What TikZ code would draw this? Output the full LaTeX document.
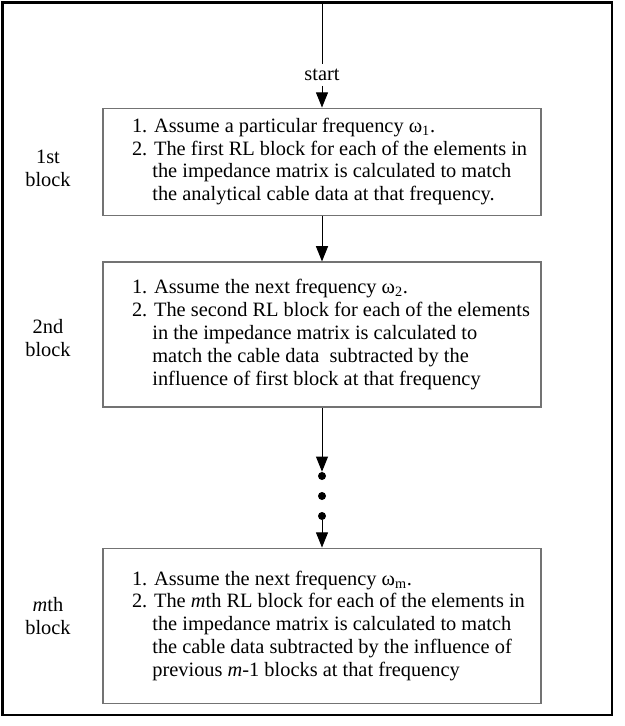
\documentclass[tikz,border=0pt]{standalone}
\usepackage{fontspec}
\setmainfont{Liberation Serif}
\usepackage{tikz}
\usetikzlibrary{arrows.meta}

\tikzset{
	blockbox/.style={rectangle,draw=black!55,line width=0.8pt,minimum width=10.95cm,inner sep=0pt},
	sidelabel/.style={align=center,inner sep=1pt},
	dot/.style={circle,fill=black,inner sep=0pt,minimum size=0.2cm},
	>={Triangle[length=0.38cm,width=0.3cm]}
}
\newcommand{\blocktext}[1]{\hspace*{0.6cm}\parbox{10.1cm}{\raggedright #1}}
\newcommand{\ind}{\hphantom{2.~}}

\begin{document}
\begin{tikzpicture}[font=\fontsize{14.5}{16.2}\selectfont]
			\useasboundingbox (0,0) rectangle (15.625,-18.15);
			\draw[line width=2pt] (0.06,-0.06) rectangle (15.3,-17.875);
			
			\coordinate (top) at (8.05,-0.06);
			\node (start) at (8.05,-1.875) {start};
			\node[blockbox,minimum height=2.675cm] (b1) at (8.05,-4.04) {\blocktext{%
				1. Assume a particular frequency ω\textsubscript{1}.\\
				2. The first RL block for each of the elements in\\
				\ind the impedance matrix is calculated to match\\
				\ind the analytical cable data at that frequency.}};
			\node[blockbox,minimum height=3.625cm] (b2) at (8.05,-8.3625) {\blocktext{%
				1. Assume the next frequency ω\textsubscript{2}.\\
				2. The second RL block for each of the elements\\
				\ind in the impedance matrix is calculated to\\
				\ind match the cable data\ \ subtracted by the\\
				\ind influence of first block at that frequency}};
			\node[dot] (d1) at (8.05,-11.9) {};
			\node[dot] (d2) at (8.05,-12.4) {};
			\node[dot] (d3) at (8.05,-12.9) {};
			\node[blockbox,minimum height=3.875cm] (b3) at (8.05,-15.64) {\blocktext{%
				1. Assume the next frequency ω\textsubscript{m}.\\
				2. The \textit{m}th RL block for each of the elements in\\
				\ind the impedance matrix is calculated to match\\
				\ind the cable data subtracted by the influence of\\
				\ind previous \textit{m}-1 blocks at that frequency}};
			
			\node[sidelabel] (l1) at (1.2,-4.2) {1st\\block};
			\node[sidelabel] (l2) at (1.2,-8.45) {2nd\\block};
			\node[sidelabel] (l3) at (1.2,-15.4) {\textit{m}th\\block};
			
			\path[draw,line width=0.7pt] (top) -- (start);
			\path[->,draw,line width=0.7pt] (start) -- (b1);
			\path[->,draw,line width=0.7pt] (b1) -- (b2);
			\path[->,draw,line width=0.7pt] (b2) -- (d1);
			\path[->,draw,line width=0.7pt] (d3) -- (b3);
		\end{tikzpicture}
\end{document}
